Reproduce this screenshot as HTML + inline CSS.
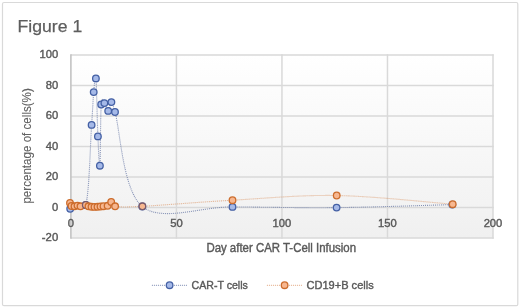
<!DOCTYPE html>
<html><head><meta charset="utf-8"><style>
html,body{margin:0;padding:0;background:#fff;width:520px;height:308px;overflow:hidden;font-family:"Liberation Sans",sans-serif;}
svg{display:block;filter:blur(0.35px);}
</style></head><body>
<svg width="520" height="308" viewBox="0 0 520 308"><defs><linearGradient id="pg" x1="0" y1="0" x2="0" y2="1"><stop offset="0" stop-color="#ffffff"/><stop offset="1" stop-color="#f0f0f0"/></linearGradient></defs>
<rect x="2.5" y="2.5" width="515.3" height="303.2" rx="1.5" fill="#fff" stroke="#d9d9d9" stroke-width="1.2"/>
<rect x="70.9" y="55" width="422.1" height="182.88" fill="url(#pg)"/>
<line x1="70.9" y1="237.88" x2="493.75" y2="237.88" stroke="#d9d9d9" stroke-width="1.5"/>
<line x1="70.9" y1="207.4" x2="493.75" y2="207.4" stroke="#d9d9d9" stroke-width="1.5"/>
<line x1="70.9" y1="176.92" x2="493.75" y2="176.92" stroke="#d9d9d9" stroke-width="1.5"/>
<line x1="70.9" y1="146.44" x2="493.75" y2="146.44" stroke="#d9d9d9" stroke-width="1.5"/>
<line x1="70.9" y1="115.96" x2="493.75" y2="115.96" stroke="#d9d9d9" stroke-width="1.5"/>
<line x1="70.9" y1="85.48" x2="493.75" y2="85.48" stroke="#d9d9d9" stroke-width="1.5"/>
<line x1="70.9" y1="55" x2="493.75" y2="55" stroke="#d9d9d9" stroke-width="1.5"/>
<line x1="176.425" y1="54.25" x2="176.425" y2="238.63" stroke="#d9d9d9" stroke-width="1.5"/>
<line x1="281.95" y1="54.25" x2="281.95" y2="238.63" stroke="#d9d9d9" stroke-width="1.5"/>
<line x1="387.475" y1="54.25" x2="387.475" y2="238.63" stroke="#d9d9d9" stroke-width="1.5"/>
<line x1="493" y1="54.25" x2="493" y2="238.63" stroke="#d9d9d9" stroke-width="1.5"/>
<line x1="70.9" y1="54.25" x2="70.9" y2="238.78" stroke="#c3c3c3" stroke-width="1.6"/>
<text x="17.6" y="31.6" font-family="Liberation Sans, sans-serif" font-size="17.4" fill="#5e5e5e" stroke="#5e5e5e" stroke-width="0.25" textLength="64.6" lengthAdjust="spacingAndGlyphs">Figure 1</text>
<text x="58.2" y="241.08" font-family="Liberation Sans, sans-serif" font-size="11.2" fill="#595959" stroke="#595959" stroke-width="0.4" text-anchor="end" textLength="16.4" lengthAdjust="spacingAndGlyphs">-20</text>
<text x="58.2" y="210.6" font-family="Liberation Sans, sans-serif" font-size="11.2" fill="#595959" stroke="#595959" stroke-width="0.4" text-anchor="end" textLength="6.25" lengthAdjust="spacingAndGlyphs">0</text>
<text x="58.2" y="180.12" font-family="Liberation Sans, sans-serif" font-size="11.2" fill="#595959" stroke="#595959" stroke-width="0.4" text-anchor="end" textLength="12.5" lengthAdjust="spacingAndGlyphs">20</text>
<text x="58.2" y="149.64" font-family="Liberation Sans, sans-serif" font-size="11.2" fill="#595959" stroke="#595959" stroke-width="0.4" text-anchor="end" textLength="12.5" lengthAdjust="spacingAndGlyphs">40</text>
<text x="58.2" y="119.16" font-family="Liberation Sans, sans-serif" font-size="11.2" fill="#595959" stroke="#595959" stroke-width="0.4" text-anchor="end" textLength="12.5" lengthAdjust="spacingAndGlyphs">60</text>
<text x="58.2" y="88.68" font-family="Liberation Sans, sans-serif" font-size="11.2" fill="#595959" stroke="#595959" stroke-width="0.4" text-anchor="end" textLength="12.5" lengthAdjust="spacingAndGlyphs">80</text>
<text x="58.2" y="58.2" font-family="Liberation Sans, sans-serif" font-size="11.2" fill="#595959" stroke="#595959" stroke-width="0.4" text-anchor="end" textLength="18.75" lengthAdjust="spacingAndGlyphs">100</text>
<text x="70.9" y="227.4" font-family="Liberation Sans, sans-serif" font-size="11.2" fill="#595959" stroke="#595959" stroke-width="0.4" text-anchor="middle" textLength="6.25" lengthAdjust="spacingAndGlyphs">0</text>
<text x="176.425" y="227.4" font-family="Liberation Sans, sans-serif" font-size="11.2" fill="#595959" stroke="#595959" stroke-width="0.4" text-anchor="middle" textLength="12.5" lengthAdjust="spacingAndGlyphs">50</text>
<text x="281.95" y="227.4" font-family="Liberation Sans, sans-serif" font-size="11.2" fill="#595959" stroke="#595959" stroke-width="0.4" text-anchor="middle" textLength="18.75" lengthAdjust="spacingAndGlyphs">100</text>
<text x="387.475" y="227.4" font-family="Liberation Sans, sans-serif" font-size="11.2" fill="#595959" stroke="#595959" stroke-width="0.4" text-anchor="middle" textLength="18.75" lengthAdjust="spacingAndGlyphs">150</text>
<text x="493" y="227.4" font-family="Liberation Sans, sans-serif" font-size="11.2" fill="#595959" stroke="#595959" stroke-width="0.4" text-anchor="middle" textLength="18.75" lengthAdjust="spacingAndGlyphs">200</text>
<text x="206.4" y="252.3" font-family="Liberation Sans, sans-serif" font-size="12.2" fill="#595959" stroke="#595959" stroke-width="0.4" textLength="149.6" lengthAdjust="spacingAndGlyphs">Day after CAR T-Cell Infusion</text>
<text transform="translate(31.4,203.6) rotate(-90)" x="0" y="0" font-family="Liberation Sans, sans-serif" font-size="12.2" fill="#626262" stroke="#626262" stroke-width="0.1" textLength="115.4" lengthAdjust="spacingAndGlyphs">percentage of cells(%)</text>
<path d="M70.20,208.80 C72.80,208.17 84.91,208.50 85.80,205.00 C89.37,191.02 90.28,143.72 91.60,124.90 C92.92,106.08 92.98,99.85 93.70,92.10 C94.42,84.35 95.20,71.02 95.90,78.40 C96.60,85.78 97.23,121.85 97.90,136.40 C98.57,150.95 99.35,171.02 99.90,165.70 C100.45,160.38 100.45,114.93 101.20,104.50 C101.95,94.07 103.23,102.03 104.40,103.10 C105.57,104.17 107.03,111.07 108.20,110.90 C109.37,110.73 110.27,101.92 111.40,102.10 C112.53,102.28 109.85,94.60 115.00,112.00 C120.15,129.40 122.72,190.68 142.30,206.50 C161.88,222.32 200.12,206.72 232.50,206.90 C264.88,207.08 299.97,207.98 336.60,207.60 C373.23,207.22 433.02,205.10 452.30,204.60" fill="none" stroke="#5a6c9e" stroke-width="1.1" stroke-dasharray="1 1" opacity="0.72"/>
<path d="M70.00,203.00 C70.25,203.50 70.75,205.45 71.50,206.00 C72.25,206.55 73.50,206.37 74.50,206.30 C75.50,206.23 76.50,205.60 77.50,205.60 C78.50,205.60 79.12,206.40 80.50,206.30 C81.88,206.20 84.47,205.00 85.80,205.00 C87.13,205.00 87.55,206.00 88.50,206.30 C89.45,206.60 90.50,206.70 91.50,206.80 C92.50,206.90 93.50,206.90 94.50,206.90 C95.50,206.90 96.50,206.87 97.50,206.80 C98.50,206.73 99.50,206.60 100.50,206.50 C101.50,206.40 102.32,206.32 103.50,206.20 C104.68,206.08 106.32,206.52 107.60,205.80 C108.88,205.08 109.95,201.82 111.20,201.90 C112.45,201.98 109.90,205.57 115.10,206.30 C120.30,207.03 122.83,207.32 142.40,206.30 C161.97,205.28 200.12,202.00 232.50,200.20 C264.88,198.40 300.00,194.83 336.70,195.50 C373.40,196.17 433.37,202.75 452.70,204.20" fill="none" stroke="#d98a55" stroke-width="1.1" stroke-dasharray="1 1" opacity="0.65"/>
<circle cx="70.2" cy="208.8" r="3.3" fill="#a5b9e8" stroke="#4460a4" stroke-width="1.3"/>
<circle cx="85.8" cy="205" r="3.3" fill="#a5b9e8" stroke="#4460a4" stroke-width="1.3"/>
<circle cx="91.6" cy="124.9" r="3.3" fill="#a5b9e8" stroke="#4460a4" stroke-width="1.3"/>
<circle cx="93.7" cy="92.1" r="3.3" fill="#a5b9e8" stroke="#4460a4" stroke-width="1.3"/>
<circle cx="95.9" cy="78.4" r="3.3" fill="#a5b9e8" stroke="#4460a4" stroke-width="1.3"/>
<circle cx="97.9" cy="136.4" r="3.3" fill="#a5b9e8" stroke="#4460a4" stroke-width="1.3"/>
<circle cx="99.9" cy="165.7" r="3.3" fill="#a5b9e8" stroke="#4460a4" stroke-width="1.3"/>
<circle cx="101.2" cy="104.5" r="3.3" fill="#a5b9e8" stroke="#4460a4" stroke-width="1.3"/>
<circle cx="104.4" cy="103.1" r="3.3" fill="#a5b9e8" stroke="#4460a4" stroke-width="1.3"/>
<circle cx="108.2" cy="110.9" r="3.3" fill="#a5b9e8" stroke="#4460a4" stroke-width="1.3"/>
<circle cx="111.4" cy="102.1" r="3.3" fill="#a5b9e8" stroke="#4460a4" stroke-width="1.3"/>
<circle cx="115" cy="112" r="3.3" fill="#a5b9e8" stroke="#4460a4" stroke-width="1.3"/>
<circle cx="142.3" cy="206.5" r="3.3" fill="#a5b9e8" stroke="#4460a4" stroke-width="1.3"/>
<circle cx="232.5" cy="206.9" r="3.3" fill="#a5b9e8" stroke="#4460a4" stroke-width="1.3"/>
<circle cx="336.6" cy="207.6" r="3.3" fill="#a5b9e8" stroke="#4460a4" stroke-width="1.3"/>
<circle cx="452.3" cy="204.6" r="3.3" fill="#a5b9e8" stroke="#4460a4" stroke-width="1.3"/>
<circle cx="70" cy="203" r="3.3" fill="#f7b790" stroke="#cc6c2c" stroke-width="1.3"/>
<circle cx="71.5" cy="206" r="3.3" fill="#f7b790" stroke="#cc6c2c" stroke-width="1.3"/>
<circle cx="74.5" cy="206.3" r="3.3" fill="#f7b790" stroke="#cc6c2c" stroke-width="1.3"/>
<circle cx="77.5" cy="205.6" r="3.3" fill="#f7b790" stroke="#cc6c2c" stroke-width="1.3"/>
<circle cx="80.5" cy="206.3" r="3.3" fill="#f7b790" stroke="#cc6c2c" stroke-width="1.3"/>
<circle cx="85.8" cy="205" r="3.3" fill="#f7b790" stroke="#7a5a6a" stroke-width="1.3"/>
<circle cx="88.5" cy="206.3" r="3.3" fill="#f7b790" stroke="#cc6c2c" stroke-width="1.3"/>
<circle cx="91.5" cy="206.8" r="3.3" fill="#f7b790" stroke="#cc6c2c" stroke-width="1.3"/>
<circle cx="94.5" cy="206.9" r="3.3" fill="#f7b790" stroke="#cc6c2c" stroke-width="1.3"/>
<circle cx="97.5" cy="206.8" r="3.3" fill="#f7b790" stroke="#cc6c2c" stroke-width="1.3"/>
<circle cx="100.5" cy="206.5" r="3.3" fill="#f7b790" stroke="#cc6c2c" stroke-width="1.3"/>
<circle cx="103.5" cy="206.2" r="3.3" fill="#f7b790" stroke="#cc6c2c" stroke-width="1.3"/>
<circle cx="107.6" cy="205.8" r="3.3" fill="#f7b790" stroke="#cc6c2c" stroke-width="1.3"/>
<circle cx="111.2" cy="201.9" r="3.3" fill="#f7b790" stroke="#cc6c2c" stroke-width="1.3"/>
<circle cx="115.1" cy="206.3" r="3.3" fill="#f7b790" stroke="#cc6c2c" stroke-width="1.3"/>
<circle cx="142.4" cy="206.3" r="3.3" fill="#f7b790" stroke="#7a5a6a" stroke-width="1.3"/>
<circle cx="232.5" cy="200.2" r="3.3" fill="#f7b790" stroke="#cc6c2c" stroke-width="1.3"/>
<circle cx="336.7" cy="195.5" r="3.3" fill="#f7b790" stroke="#cc6c2c" stroke-width="1.3"/>
<circle cx="452.7" cy="204.2" r="3.3" fill="#f7b790" stroke="#cc6c2c" stroke-width="1.3"/>
<line x1="151.9" y1="285.4" x2="187.7" y2="285.4" stroke="#5a6c9e" stroke-width="1.1" stroke-dasharray="1 1" opacity="0.65"/>
<circle cx="169.6" cy="285.2" r="3.3" fill="#a5b9e8" stroke="#4460a4" stroke-width="1.3"/>
<text x="191.5" y="288.6" font-family="Liberation Sans, sans-serif" font-size="11.8" fill="#595959" stroke="#595959" stroke-width="0.4" textLength="56.4" lengthAdjust="spacingAndGlyphs">CAR-T cells</text>
<line x1="266.9" y1="285.4" x2="302.7" y2="285.4" stroke="#d98a55" stroke-width="1.1" stroke-dasharray="1 1" opacity="0.6"/>
<circle cx="284.6" cy="285.2" r="3.3" fill="#f7b790" stroke="#cc6c2c" stroke-width="1.3"/>
<text x="306.5" y="288.6" font-family="Liberation Sans, sans-serif" font-size="11.8" fill="#595959" stroke="#595959" stroke-width="0.4" textLength="67.2" lengthAdjust="spacingAndGlyphs">CD19+B cells</text></svg>
</body></html>
